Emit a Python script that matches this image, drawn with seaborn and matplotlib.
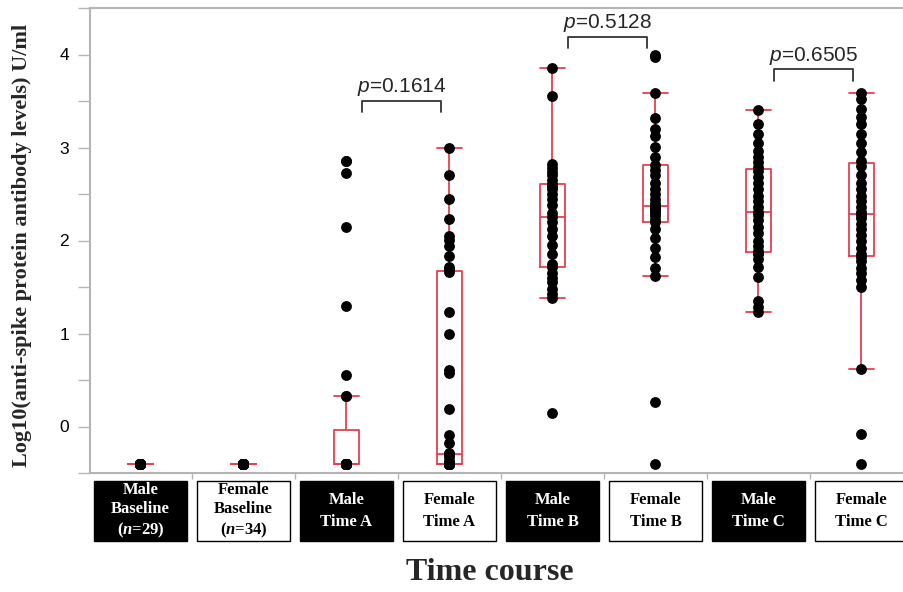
import matplotlib
matplotlib.use("Agg")
import matplotlib.pyplot as plt
from matplotlib.patches import Rectangle
from matplotlib.ticker import MultipleLocator
import pandas as pd
import seaborn as sns

# groupes (ordre de l'axe x)
groups = ["Male Baseline", "Female Baseline", "Male Time A", "Female Time A",
          "Male Time B", "Female Time B", "Male Time C", "Female Time C"]
box_labels = ["Male\nBaseline\n($\\mathit{n}$=29)", "Female\nBaseline\n($\\mathit{n}$=34)",
              "Male\nTime A", "Female\nTime A", "Male\nTime B", "Female\nTime B",
              "Male\nTime C", "Female\nTime C"]

# valeurs log10
male_baseline = [-0.40] * 29
female_baseline = [-0.40] * 34
male_a = [-0.40] * 23 + [0.33, 0.33, 0.55, 1.30, 2.14, 2.73, 2.86, 2.86]
female_a = [-0.40] * 17 + [-0.37, -0.33, -0.30, -0.30, -0.28, -0.18, -0.09, 0.19, 0.58,
                           0.61, 1.00, 1.23, 1.66, 1.69, 1.72, 1.83, 1.94, 2.01, 2.05,
                           2.23, 2.45, 2.70, 2.99]
male_b = [0.15, 1.38, 1.42, 1.48, 1.55, 1.60, 1.65, 1.71, 1.75, 1.85, 1.95, 2.05, 2.12,
          2.20, 2.25, 2.30, 2.38, 2.45, 2.50, 2.55, 2.58, 2.61, 2.65, 2.70, 2.74, 2.78,
          2.82, 3.55, 3.86]
female_b = [-0.40, 0.26, 1.62, 1.70, 1.82, 1.92, 2.03, 2.12, 2.20, 2.22, 2.26, 2.30, 2.32,
            2.34, 2.35, 2.36, 2.37, 2.40, 2.45, 2.50, 2.55, 2.62, 2.70, 2.76, 2.81, 2.90,
            3.01, 3.12, 3.20, 3.32, 3.59, 3.97, 4.00]
male_c = [1.23, 1.28, 1.35, 1.61, 1.72, 1.80, 1.86, 1.87, 1.89, 1.94, 2.00, 2.08, 2.15,
          2.22, 2.27, 2.31, 2.36, 2.42, 2.48, 2.55, 2.62, 2.68, 2.75, 2.79, 2.84, 2.90,
          2.96, 3.05, 3.14, 3.25, 3.40]
female_c = [-0.40, -0.08, 0.62, 1.50, 1.58, 1.65, 1.70, 1.78, 1.82, 1.86, 1.92, 2.00,
            2.06, 2.12, 2.18, 2.24, 2.27, 2.31, 2.36, 2.42, 2.48, 2.55, 2.62, 2.70, 2.80,
            2.85, 2.95, 3.05, 3.15, 3.25, 3.33, 3.41, 3.52, 3.59]

# comparaisons (indice du groupe homme, hauteur du crochet, texte)
pair_left = [2, 4, 6]
pair_height = [3.505, 4.19, 3.84]
pair_text = ["0.1614", "0.5128", "0.6505"]

all_values = [male_baseline, female_baseline, male_a, female_a,
              male_b, female_b, male_c, female_c]
df = pd.DataFrame({
    "group": [g for g, v in zip(groups, all_values) for _ in v],
    "value": [x for v in all_values for x in v],
})

sns.set_style("ticks")
plt.rcParams["font.family"] = ["Liberation Sans", "DejaVu Sans"]
plt.rcParams["mathtext.fontset"] = "custom"
plt.rcParams["mathtext.it"] = "Liberation Serif:italic:bold"
plt.rcParams["mathtext.rm"] = "Liberation Serif:bold"
plt.rcParams["mathtext.sf"] = "Liberation Sans:italic"

red = "#e4404f"
grey = "#b4b4b4"

fig = plt.figure(figsize=(9.04, 5.92), dpi=100)
ax = fig.add_axes([90 / 904, 1 - 473 / 592, 823 / 904, 465 / 592])

sns.stripplot(data=df, x="group", y="value", order=groups, jitter=False,
              color="black", size=7.8, ax=ax)
sns.boxplot(data=df, x="group", y="value", order=groups, width=0.25, fill=False,
            color=red, linewidth=1.3, whis=1.5, showfliers=False, ax=ax,
            capwidths=0.25)

ax.set_xlim(-0.49, 7.5)
ax.set_ylim(-0.5, 4.5)
ax.yaxis.set_major_locator(MultipleLocator(1))
ax.yaxis.set_minor_locator(MultipleLocator(0.5))
ax.set_xticks([i + 0.5 for i in range(7)])
ax.set_xticklabels([])
ax.tick_params(axis="y", which="both", length=9, width=1, color=grey, pad=6,
               labelsize=12.5, labelcolor="black")
ax.tick_params(axis="x", length=4, width=1, color=grey)
for side in ["left", "bottom", "top"]:
    ax.spines[side].set_color(grey)
    ax.spines[side].set_linewidth(1.5)
ax.spines["right"].set_visible(False)

# crochets et valeurs p
for i, h, t in zip(pair_left, pair_height, pair_text):
    a, b = i + 0.15, i + 0.92
    ax.plot([a, a, b, b], [h - 0.12, h, h, h - 0.12], color="#333333", lw=1.3)
    ax.text((a + b) / 2, h + 0.09, "$\\mathsf{p}$=" + t, ha="center", va="baseline",
            fontsize=15, family="Liberation Sans")

# étiquettes en boîtes sous l'axe
trans = ax.get_xaxis_transform()
for i, lab in enumerate(box_labels):
    male = i % 2 == 0
    ax.add_patch(Rectangle((i - 0.45, -0.146), 0.9, 0.128, transform=trans,
                           clip_on=False, facecolor="black" if male else "white",
                           edgecolor="black", lw=1))
    ax.text(i, -0.082, lab, transform=trans, ha="center", va="center",
            color="white" if male else "black", fontsize=12, weight="bold",
            family="Liberation Serif",
            linespacing=1.25 if lab.count("\n") == 2 else 1.45)

ax.set_ylabel("Log10(anti-spike protein antibody levels) U/ml", family="Liberation Serif",
              weight="bold", fontsize=16)
ax.yaxis.set_label_coords(-0.07, 0.49)
ax.set_xlabel("Time course", family="Liberation Serif", weight="bold", fontsize=23)
ax.xaxis.set_label_coords(0.486, -0.183)

plt.savefig("out.png", dpi=100)
